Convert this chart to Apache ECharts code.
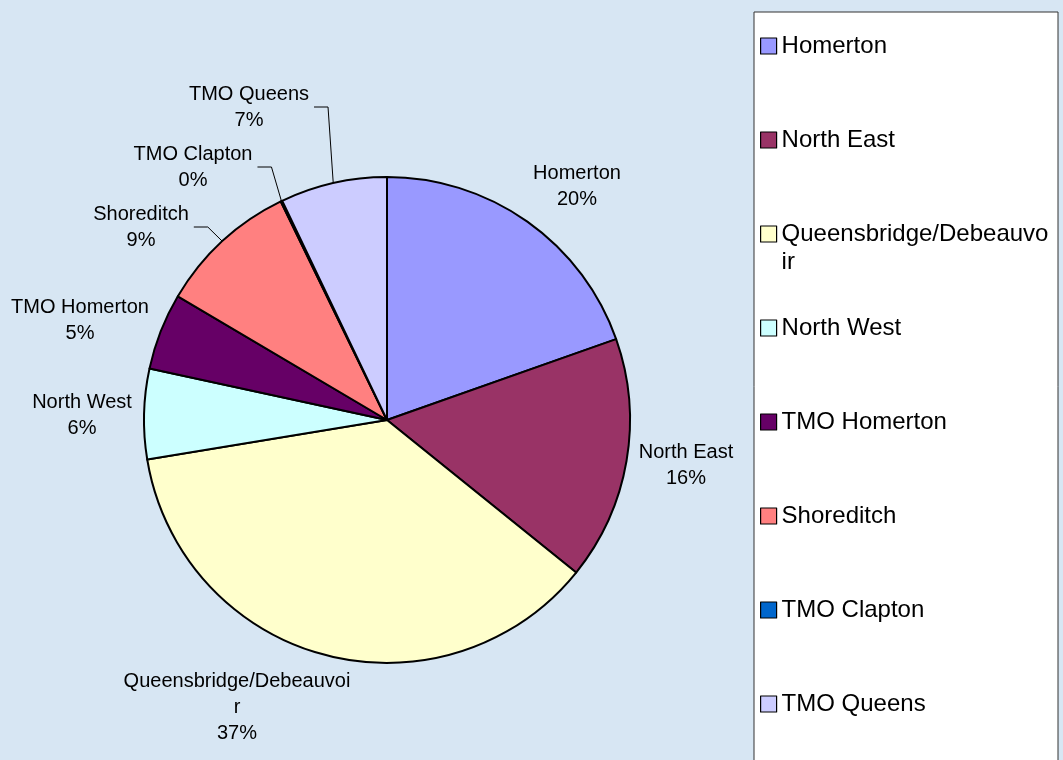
<!DOCTYPE html>
<html>
<head>
<meta charset="utf-8">
<script src="https://cdn.jsdelivr.net/npm/echarts@6/dist/echarts.min.js"></script>
<style>
html,body{margin:0;padding:0;background:#d7e6f3;}
#chart{width:1063px;height:760px;}
</style>
</head>
<body>
<div id="chart"></div>
<script>
// ---- data ----
const categories = ['Homerton', 'North East', 'Queensbridge/Debeauvoir', 'North West', 'TMO Homerton', 'Shoreditch', 'TMO Clapton', 'TMO Queens'];
const shares = [19.6, 16.2, 36.6, 6.0, 5.1, 9.3, 0.1, 7.1];

// ---- styling / layout ----
const colors = ['#9999FF', '#993366', '#FFFFCC', '#CCFFFF', '#660066', '#FF8080', '#0066CC', '#CCCCFF'];
const hasLeader = [false, false, false, false, false, true, true, true];
const labelPos = [[577, 186], [686, 465], [237, 707], [82, 415], [80, 320], [141, 227], [193, 167], [249, 107]];
const FONT = "'Liberation Sans', Arial, sans-serif";

function wrap(name, n) {
  if (name.length <= n) return name;
  const parts = [];
  for (let i = 0; i < name.length; i += n) parts.push(name.slice(i, i + n));
  return parts.join('\n');
}

const chart = echarts.init(document.getElementById('chart'));
chart.setOption({
  backgroundColor: '#d7e6f3',
  animation: false,
  graphic: [{
    type: 'rect',
    z: 0,
    shape: { x: 754, y: 12, width: 304, height: 760 },
    style: { fill: '#ffffff', stroke: '#333333', lineWidth: 1 }
  }],
  legend: {
    orient: 'vertical',
    left: 760,
    top: 4,
    padding: 0,
    itemGap: 10,
    itemWidth: 16,
    itemHeight: 16,
    icon: 'rect',
    itemStyle: { borderColor: '#000', borderWidth: 1.2 },
    textStyle: { fontSize: 24, lineHeight: 28, color: '#000', fontFamily: FONT },
    formatter: function (name) {
      const w = wrap(name, 21);
      return w.indexOf('\n') >= 0 ? '\n' + w : '\n' + w + '\n';
    },
    data: categories
  },
  series: [{
    type: 'pie',
    center: [387, 420],
    radius: 243,
    startAngle: 90,
    clockwise: true,
    percentPrecision: 0,
    avoidLabelOverlap: false,
    itemStyle: { borderColor: '#000', borderWidth: 2 },
    label: {
      show: true,
      position: 'outside',
      fontSize: 20,
      lineHeight: 26,
      color: '#000',
      fontFamily: FONT,
      formatter: function (p) { return wrap(p.name, 22) + '\n' + p.percent + '%'; }
    },
    labelLine: { show: true, length: 10, length2: 10, lineStyle: { color: '#000', width: 1 } },
    labelLayout: function (p) {
      const i = p.dataIndex;
      const pos = labelPos[i];
      const res = { x: pos[0], y: pos[1], align: 'center', verticalAlign: 'middle' };
      if (hasLeader[i] && p.labelLinePoints) {
        const right = pos[0] + p.labelRect.width / 2;
        res.labelLinePoints = [p.labelLinePoints[0], [right + 19, pos[1]], [right + 5, pos[1]]];
      }
      return res;
    },
    emphasis: { disabled: true },
    data: categories.map(function (c, i) {
      return {
        name: c,
        value: shares[i],
        itemStyle: { color: colors[i] },
        labelLine: { show: hasLeader[i] }
      };
    })
  }]
});
</script>
</body>
</html>
